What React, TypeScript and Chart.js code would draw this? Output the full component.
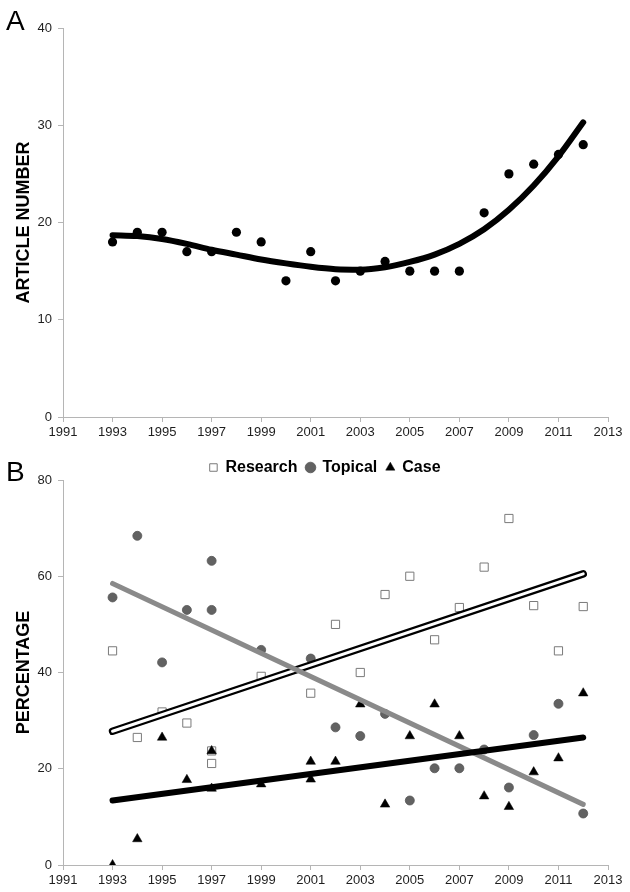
import React, { useEffect, useRef } from "react";
import { Chart, registerables } from "chart.js";

Chart.register(...registerables);

const FONT = "'Liberation Sans', Arial, Helvetica, sans-serif";
const AXIS_COLOR = "#b5b5b5";
const TICK_COLOR = "#1e1e1e";

// ---------- Panel A ----------
const years = [1993, 1994, 1995, 1996, 1997, 1998, 1999, 2000, 2001, 2002, 2003, 2004, 2005, 2006, 2007, 2008, 2009, 2010, 2011, 2012];
const articleCounts = [18, 19, 19, 17, 17, 19, 18, 14, 17, 14, 15, 16, 15, 15, 15, 21, 25, 26, 27, 28];
const articleTrend = [18.7, 18.6, 18.3, 17.8, 17.2, 16.7, 16.2, 15.8, 15.45, 15.2, 15.15, 15.4, 15.95, 16.7, 17.8, 19.3, 21.3, 23.8, 26.8, 30.3];
const yTicksA = [0, 10, 20, 30, 40];

// ---------- Panel B ----------
const researchYears = [1993, 1994, 1995, 1996, 1997, 1997, 1999, 2001, 2002, 2003, 2004, 2005, 2006, 2007, 2008, 2009, 2010, 2011, 2012];
const researchPct = [44.5, 26.5, 31.8, 29.5, 23.7, 21.1, 39.2, 35.7, 50.0, 40.0, 56.2, 60.0, 46.8, 53.5, 61.9, 72.0, 53.9, 44.5, 53.7];
const topicalYears = [1993, 1994, 1995, 1996, 1997, 1997, 1999, 2001, 2002, 2003, 2004, 2005, 2006, 2007, 2008, 2009, 2010, 2011, 2012];
const topicalPct = [55.6, 68.4, 42.1, 53.0, 63.2, 53.0, 44.7, 42.9, 28.6, 26.8, 31.4, 13.4, 20.1, 20.1, 24.0, 16.1, 27.0, 33.5, 10.7];
const caseYears = [1993, 1994, 1995, 1996, 1997, 1997, 1999, 2001, 2001, 2002, 2003, 2004, 2005, 2006, 2007, 2008, 2009, 2010, 2011, 2012];
const casePct = [0, 5.4, 26.5, 17.7, 23.7, 15.9, 16.8, 21.5, 17.8, 21.5, 33.4, 12.6, 26.8, 33.4, 26.8, 14.3, 12.1, 19.3, 22.2, 35.7];
const trendYears = [1993, 2012];
const researchTrend = [27.8, 60.5];
const topicalTrend = [58.5, 12.6];
const caseTrend = [13.4, 26.5];
const yTicksB = [0, 20, 40, 60, 80];
const legendNames = ["Research", "Topical", "Case"];

const LEGEND_DX = 21;
const LEGEND_DY = 5.5;

const pts = (xs: number[], ys: number[]) => xs.map((x, i) => ({ x, y: ys[i] }));

function xScale(height: number) {
  return {
    type: "linear" as const,
    min: 1991,
    max: 2013,
    ticks: {
      stepSize: 2,
      autoSkip: false,
      maxRotation: 0,
      color: TICK_COLOR,
      padding: 3,
      font: { family: FONT, size: 13 },
      callback: (v: any) => String(v),
    },
    grid: { drawOnChartArea: false, drawTicks: true, tickLength: 5, color: AXIS_COLOR },
    border: { display: true, color: AXIS_COLOR, width: 1 },
    afterFit: (s: any) => {
      s.height = height;
    },
  };
}

function yScale(ticks: number[], title: string) {
  return {
    type: "linear" as const,
    min: ticks[0],
    max: ticks[ticks.length - 1],
    afterBuildTicks: (s: any) => {
      s.ticks = ticks.map((v) => ({ value: v }));
    },
    ticks: {
      color: TICK_COLOR,
      padding: 6,
      font: { family: FONT, size: 13 },
    },
    grid: { drawOnChartArea: false, drawTicks: true, tickLength: 5, color: AXIS_COLOR },
    border: { display: true, color: AXIS_COLOR, width: 1 },
    title: {
      display: true,
      text: title,
      color: "#000",
      font: { family: FONT, size: 18, weight: "bold" as const },
      padding: { top: 13, bottom: 0 },
    },
    afterFit: (s: any) => {
      s.width = 63;
    },
  };
}

const legendNudge = {
  id: "legendNudge",
  afterLayout(chart: any) {
    const l = chart.legend;
    if (!l) return;
    l.top += LEGEND_DY;
    l.bottom += LEGEND_DY;
    l.left += LEGEND_DX;
    l.right += LEGEND_DX;
  },
};

export default function App() {
  const topRef = useRef<HTMLCanvasElement>(null);
  const botRef = useRef<HTMLCanvasElement>(null);

  useEffect(() => {
    const c1 = new Chart(topRef.current!, {
      type: "scatter",
      data: {
        datasets: [
          {
            label: "Trend",
            data: pts(years, articleTrend),
            showLine: true,
            borderColor: "#000",
            borderWidth: 6,
            borderCapStyle: "round",
            cubicInterpolationMode: "monotone",
            pointRadius: 0,
            order: 0,
          } as any,
          {
            label: "Articles",
            data: pts(years, articleCounts),
            backgroundColor: "#000",
            borderColor: "#000",
            borderWidth: 0,
            pointRadius: 4.6,
            order: 1,
          },
        ],
      },
      options: {
        animation: false,
        responsive: false,
        layout: { padding: { top: 28, right: 22, bottom: 0, left: 0 } },
        plugins: { legend: { display: false }, tooltip: { enabled: false } },
        scales: { x: xScale(29) as any, y: yScale(yTicksA, "ARTICLE NUMBER") as any },
      },
    });

    const c2 = new Chart(botRef.current!, {
      type: "scatter",
      data: {
        datasets: [
          {
            label: "",
            data: pts(trendYears, caseTrend),
            showLine: true,
            borderColor: "#000",
            borderWidth: 6,
            borderCapStyle: "round",
            pointRadius: 0,
            order: 0,
          } as any,
          {
            label: "",
            data: pts(trendYears, topicalTrend),
            showLine: true,
            borderColor: "#8a8a8a",
            borderWidth: 5,
            borderCapStyle: "round",
            pointRadius: 0,
            order: 1,
          },
          {
            label: "",
            data: pts(trendYears, researchTrend),
            showLine: true,
            borderColor: "#fff",
            borderWidth: 3,
            borderCapStyle: "round",
            pointRadius: 0,
            order: 2,
          },
          {
            label: "",
            data: pts(trendYears, researchTrend),
            showLine: true,
            borderColor: "#000",
            borderWidth: 7.5,
            borderCapStyle: "round",
            pointRadius: 0,
            order: 3,
          },
          {
            label: legendNames[0],
            data: pts(researchYears, researchPct),
            pointStyle: "rect",
            backgroundColor: "#fff",
            borderColor: "#7a7a7a",
            borderWidth: 1,
            pointRadius: 5.8,
            order: 6,
          },
          {
            label: legendNames[1],
            data: pts(topicalYears, topicalPct),
            pointStyle: "circle",
            backgroundColor: "#626262",
            borderColor: "#555",
            borderWidth: 0.8,
            pointRadius: 4.5,
            order: 5,
          },
          {
            label: legendNames[2],
            data: pts(caseYears, casePct),
            pointStyle: "triangle",
            backgroundColor: "#000",
            borderColor: "#000",
            borderWidth: 0.5,
            pointRadius: 5.5,
            order: 4,
          },
        ],
      },
      options: {
        animation: false,
        responsive: false,
        layout: { padding: { top: -1, right: 22, bottom: 0, left: 0 } },
        plugins: {
          tooltip: { enabled: false },
          legend: {
            display: true,
            position: "top",
            align: "center",
            labels: {
              usePointStyle: true,
              boxWidth: 8,
              boxHeight: 7.5,
              padding: 9,
              color: "#000",
              font: { family: FONT, size: 16, weight: "bold" },
              filter: (item: any) => legendNames.includes(item.text),
              sort: (a: any, b: any) => legendNames.indexOf(a.text) - legendNames.indexOf(b.text),
            },
          },
        },
        scales: { x: xScale(27) as any, y: yScale(yTicksB, "PERCENTAGE") as any },
      },
      plugins: [legendNudge],
    });

    return () => {
      c1.destroy();
      c2.destroy();
    };
  }, []);

  const panelLabel: React.CSSProperties = {
    position: "absolute",
    fontFamily: FONT,
    fontSize: 28,
    lineHeight: "28px",
    color: "#000",
  };

  return (
    <div style={{ position: "absolute", left: 0, top: 0, width: 630, height: 892, background: "#fff", overflow: "hidden" }}>
      <canvas ref={topRef} width={630} height={446} style={{ position: "absolute", left: 0, top: 0 }} />
      <canvas ref={botRef} width={630} height={446} style={{ position: "absolute", left: 0, top: 446 }} />
      <div style={{ ...panelLabel, left: 6, top: 7 }}>A</div>
      <div style={{ ...panelLabel, left: 6, top: 458 }}>B</div>
    </div>
  );
}
